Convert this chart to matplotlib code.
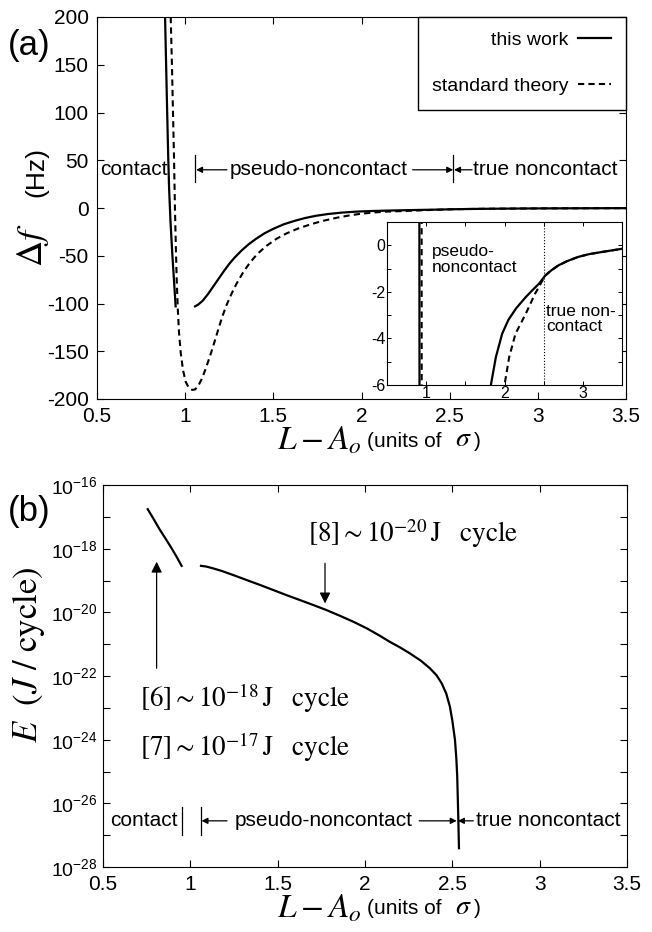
import matplotlib
matplotlib.use('Agg')
import matplotlib.pyplot as plt
import numpy as np

plt.rcParams['font.family'] = ['Liberation Sans', 'DejaVu Sans']
plt.rcParams['mathtext.fontset'] = 'custom'
plt.rcParams['mathtext.rm'] = 'Liberation Sans'
plt.rcParams['mathtext.it'] = 'Liberation Sans:italic'
plt.rcParams['axes.unicode_minus'] = False

# ---- panel (a): frequency shift (Hz) ----
work_contact_x = [0.886, 0.892, 0.898, 0.903, 0.909, 0.917, 0.927, 0.937, 0.946]
work_contact_y = [200, 150, 100, 60, 20, -15, -48, -77, -103]
work_nc_x = [1.056, 1.075, 1.10, 1.13, 1.16, 1.19, 1.22, 1.25, 1.28, 1.32, 1.36,
             1.40, 1.45, 1.50, 1.56, 1.62, 1.68, 1.74, 1.81, 1.89, 1.97, 2.05,
             2.15, 2.27, 2.35, 2.44, 2.52, 2.60, 2.69, 2.80, 2.94, 3.08, 3.24,
             3.37, 3.5]
work_nc_y = [-103, -101, -97, -90, -82, -74, -66, -58.5, -52, -44.5, -38,
             -32.5, -26.5, -21.8, -17, -13.5, -10.5, -8.2, -6.3, -4.8, -3.8, -3.2,
             -2.7, -2.23, -1.95, -1.65, -1.3, -1.07, -0.86, -0.68, -0.5, -0.38, -0.29,
             -0.22, -0.15]
std_x = [0.918, 0.925, 0.931, 0.937, 0.942, 0.947, 0.952, 0.958, 0.965, 0.975,
         0.988, 1.003, 1.02, 1.04, 1.056, 1.075, 1.094, 1.115, 1.141, 1.165,
         1.188, 1.21, 1.236, 1.265, 1.292, 1.33, 1.368, 1.41, 1.462, 1.52,
         1.576, 1.64, 1.708, 1.78, 1.86, 1.93, 1.99, 2.06, 2.14, 2.27,
         2.39, 2.52, 2.60, 2.69, 2.80, 2.94, 3.08, 3.24, 3.37, 3.5]
std_y = [200, 150, 100, 50, 0, -40, -75, -105, -130, -152,
         -170, -182, -188, -190.5, -190, -186, -179, -169, -155, -141,
         -127, -114, -101, -89, -79, -67, -57, -48, -39.5, -32,
         -26.5, -21.5, -17.3, -13.5, -10.2, -7.8, -6.2, -4.8, -3.8, -2.95,
         -2.08, -1.3, -1.07, -0.86, -0.68, -0.5, -0.38, -0.29, -0.22, -0.15]

# ---- panel (b): energy dissipated per cycle (log10 J) ----
E_contact_x = [0.756, 0.79, 0.826, 0.86, 0.893, 0.922, 0.950]
E_contact_log = [-16.76, -17.07, -17.41, -17.70, -17.99, -18.26, -18.54]
E_nc_x = [1.061, 1.09, 1.131, 1.18, 1.246, 1.32, 1.399, 1.475, 1.551, 1.63,
          1.704, 1.78, 1.857, 1.935, 2.009, 2.08, 2.143, 2.20, 2.257, 2.32,
          2.372, 2.41, 2.439, 2.465, 2.486, 2.50, 2.515, 2.523, 2.528, 2.534, 2.538]
E_nc_log = [-18.54, -18.56, -18.62, -18.70, -18.83, -18.98, -19.14, -19.30, -19.46, -19.62,
            -19.77, -19.93, -20.11, -20.30, -20.50, -20.72, -20.93, -21.10, -21.29, -21.52,
            -21.76, -21.98, -22.23, -22.55, -22.96, -23.4, -24.0, -24.6, -25.16, -26.42, -27.41]

W, H = 652, 932
fig = plt.figure(figsize=(W / 100, H / 100), dpi=100)


def ftext(px, py, s, **kw):
    return fig.text(px / W, 1 - py / H, s, **kw)


def arrow(ax, tip, tail, ms=9):
    ax.annotate('', xy=tip, xytext=tail,
                arrowprops=dict(arrowstyle='-|>', color='k', lw=0.9,
                                mutation_scale=ms, shrinkA=0, shrinkB=0))


def box_ticks(ax, size=15, length=5):
    ax.tick_params(which='both', direction='in', top=True, right=True,
                   length=length, width=0.8, labelsize=size, pad=6)


dash = (0, (3, 2))
lab = 15

# ================= (a) =================
ax1 = fig.add_axes([97 / W, 1 - 399 / H, 529 / W, 382 / H])
ax1.plot(work_contact_x, work_contact_y, 'k-', lw=1.6, label='this work')
ax1.plot(work_nc_x, work_nc_y, 'k-', lw=1.6)
ax1.plot(std_x, std_y, color='k', ls=dash, lw=1.5, label='standard theory')
ax1.set_xlim(0.5, 3.5)
ax1.set_ylim(-200, 200)
xt = np.arange(0.5, 3.51, 0.5)
ax1.set_xticks(xt)
ax1.set_xticklabels(['%g' % v for v in xt])
ax1.set_yticks(np.arange(-200, 201, 50))
box_ticks(ax1)
leg = ax1.legend(loc='upper right', markerfirst=False, fontsize=14, frameon=True,
                 fancybox=False, edgecolor='k', framealpha=1, borderaxespad=0,
                 handlelength=1.7, labelspacing=1.45, borderpad=0.75, handletextpad=0.5)
leg.get_frame().set_linewidth(1.0)

# region labels (a)
yrow = 40
ax1.text(0.515, yrow, 'contact', fontsize=lab, va='center', ha='left')
ax1.plot([1.056, 1.056], [27, 56], 'k-', lw=0.9)
arrow(ax1, (1.062, yrow), (1.237, yrow))
ax1.text(1.255, yrow, 'pseudo-noncontact', fontsize=lab, va='center', ha='left')
arrow(ax1, (2.52, yrow), (2.29, yrow))
ax1.plot([2.52, 2.52], [27, 56], 'k-', lw=0.9)
arrow(ax1, (2.525, yrow), (2.627, yrow))
ax1.text(2.635, yrow, 'true noncontact', fontsize=lab, va='center', ha='left')

# inset
axi = fig.add_axes([387 / W, 1 - 385 / H, 235 / W, 163 / H])
axi.plot(work_contact_x, work_contact_y, 'k-', lw=1.6)
axi.plot(work_nc_x, work_nc_y, 'k-', lw=1.6)
axi.plot(std_x, std_y, color='k', ls=dash, lw=1.5)
axi.axvline(2.51, color='k', ls=':', lw=0.8)
axi.set_xlim(0.5, 3.5)
axi.set_ylim(-6, 1)
axi.set_xticks([1, 2, 3])
axi.set_xticks([1.5, 2.5, 3.5], minor=True)
axi.set_yticks([0, -2, -4, -6])
axi.set_yticks([-1, -3, -5], minor=True)
axi.tick_params(which='both', direction='in', top=True, right=True,
                length=3, width=0.7, labelsize=11.5, pad=1)
axi.text(1.07, 0.05, 'pseudo-\nnoncontact', fontsize=12.5, va='top', ha='left',
         linespacing=1.05)
axi.text(2.53, -2.5, 'true non-\ncontact', fontsize=12.5, va='top', ha='left',
         linespacing=1.05)

# ================= (b) =================
ax2 = fig.add_axes([103 / W, 1 - 867 / H, 524 / W, 382 / H])
ax2.semilogy(E_contact_x, 10.0 ** np.array(E_contact_log), 'k-', lw=1.6)
ax2.semilogy(E_nc_x, 10.0 ** np.array(E_nc_log), 'k-', lw=1.6)
ax2.set_xlim(0.5, 3.5)
ax2.set_ylim(1e-28, 1e-16)
ax2.set_xticks(xt)
ax2.set_xticklabels(['%g' % v for v in xt])
exps = list(range(-28, -15, 2))
ax2.set_yticks([10.0 ** k for k in exps])
ax2.set_yticklabels([r'$10^{%d}$' % k for k in exps])
ax2.set_yticks([10.0 ** k for k in range(-27, -16, 2)], minor=True)
ax2.yaxis.set_minor_formatter(matplotlib.ticker.NullFormatter())
box_ticks(ax2)
ax2.tick_params(axis='y', labelsize=14, pad=4)

serif = dict(math_fontfamily='stix', fontsize=19.5, va='center', ha='left')
ax2.text(1.673, 10 ** -17.51, r'$[8]\sim10^{-20}\,\mathrm{J}\quad\mathrm{cycle}$', **serif)
ax2.text(0.712, 10 ** -22.69, r'$[6]\sim10^{-18}\,\mathrm{J}\quad\mathrm{cycle}$', **serif)
ax2.text(0.712, 10 ** -24.23, r'$[7]\sim10^{-17}\,\mathrm{J}\quad\mathrm{cycle}$', **serif)
arrow(ax2, (1.771, 10 ** -19.72), (1.771, 10 ** -18.46), ms=16)
arrow(ax2, (0.807, 10 ** -18.41), (0.807, 10 ** -21.76), ms=16)

yb = 10 ** -26.55
ax2.text(0.54, yb, 'contact', fontsize=lab, va='center', ha='left')
ax2.plot([0.952, 0.952], [10 ** -26.12, 10 ** -27.0], 'k-', lw=0.9)
ax2.plot([1.061, 1.061], [10 ** -26.12, 10 ** -27.0], 'k-', lw=0.9)
arrow(ax2, (1.064, yb), (1.21, yb))
ax2.text(1.256, yb, 'pseudo-noncontact', fontsize=lab, va='center', ha='left')
arrow(ax2, (2.525, yb), (2.31, yb))
arrow(ax2, (2.532, yb), (2.62, yb))
ax2.text(2.635, yb, 'true noncontact', fontsize=lab, va='center', ha='left')

# panel letters
ftext(8, 45, '(a)', fontsize=25, va='center', ha='left')
ftext(8, 512, '(b)', fontsize=25, va='center', ha='left')

# axis labels (a)
ftext(33, 245, r'$\Delta f$', math_fontfamily='stix', fontsize=26,
      rotation=90, va='center', ha='center')
ftext(36, 172, '(Hz)', fontsize=19, rotation=90, va='center', ha='center')
ftext(277, 441, r'$L-A_o$', math_fontfamily='stix', fontsize=24, va='center', ha='left')
ftext(367, 441, '(units of', fontsize=15, va='center', ha='left')
ftext(455, 439, r'$\sigma$', math_fontfamily='stix', fontsize=20, va='center', ha='left')
ftext(474, 441, ')', fontsize=15, va='center', ha='left')

# axis labels (b)
ftext(29, 655, r'$E\ \ (J\ /\ \mathrm{cycle})$', math_fontfamily='stix', fontsize=25,
      rotation=90, va='center', ha='center')
ftext(277, 909, r'$L-A_o$', math_fontfamily='stix', fontsize=24, va='center', ha='left')
ftext(367, 909, '(units of', fontsize=15, va='center', ha='left')
ftext(455, 907, r'$\sigma$', math_fontfamily='stix', fontsize=20, va='center', ha='left')
ftext(474, 909, ')', fontsize=15, va='center', ha='left')

fig.savefig('out.png', dpi=100)
